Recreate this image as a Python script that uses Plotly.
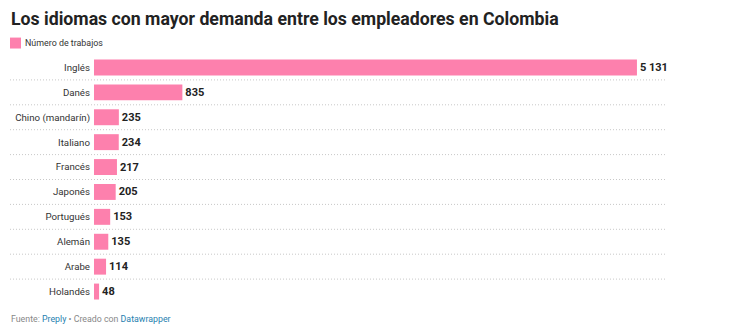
import plotly.graph_objects as go

idiomas = ["Inglés", "Danés", "Chino (mandarín)", "Italiano", "Francés",
           "Japonés", "Portugués", "Alemán", "Arabe", "Holandés"]
trabajos = [5131, 835, 235, 234, 217, 205, 153, 135, 114, 48]

BAR = "#fd80ad"
FONT = "Roboto"
PW = 573.0
PH = 250.0

def px_x(p):
    return (p - 94) / PW

def px_y(p):
    return (330 - 25.5 - p) / PH

idx = list(range(len(idiomas)))

fig = go.Figure(go.Bar(
    x=trabajos, y=idx, orientation="h",
    marker=dict(color=BAR, line=dict(width=0)),
    width=0.64,
    texttemplate="<b>%{x:,}</b>", textposition="outside",
    textfont=dict(family=FONT, size=11, color="#222"),
    cliponaxis=False, hoverinfo="skip",
))

shapes = []
for i in range(len(idiomas) - 1):
    shapes.append(dict(type="line", xref="paper", yref="y",
                       x0=px_x(10), x1=1.0, y0=i + 0.5, y1=i + 0.5,
                       line=dict(color="#c8c8c8", width=1, dash="1px,2px"),
                       layer="below"))
# legend swatch
shapes.append(dict(type="rect", xref="paper", yref="paper",
                   x0=px_x(10), x1=px_x(21), y0=px_y(48), y1=px_y(37),
                   fillcolor=BAR, line=dict(width=0)))

fig.update_layout(
    width=732, height=330,
    margin=dict(l=94, r=65, t=54.5, b=25.5, autoexpand=False),
    plot_bgcolor="white", paper_bgcolor="white",
    separators=", ",
    font=dict(family=FONT, size=10, color="#333"),
    showlegend=False,
    bargap=0.36,
    xaxis=dict(range=[0, 5415], visible=False, fixedrange=True, automargin=False),
    yaxis=dict(range=[9.5, -0.5], tickvals=idx, ticktext=idiomas,
               showgrid=False, zeroline=False, showline=False, ticks="",
               ticklabelstandoff=3, automargin=False,
               tickfont=dict(family=FONT, size=9.7, color="#333")),
    shapes=shapes,
    annotations=[
        dict(text="<b>Los idiomas con mayor demanda entre los empleadores en Colombia</b>",
             xref="paper", yref="paper", x=px_x(9), y=px_y(18),
             xanchor="left", yanchor="middle", showarrow=False,
             font=dict(family=FONT, size=17.7, color="#222")),
        dict(text="Número de trabajos", xref="paper", yref="paper",
             x=px_x(23), y=px_y(42.5), xanchor="left", yanchor="middle",
             showarrow=False, font=dict(family=FONT, size=8.9, color="#333")),
        dict(text="<span style='color:#888'>Fuente: </span><span style='color:#1f7fb0'>Preply</span>"
                  "<span style='color:#888'> • Creado con </span><span style='color:#1f7fb0'>Datawrapper</span>",
             xref="paper", yref="paper", x=px_x(9), y=px_y(320),
             xanchor="left", yanchor="middle", showarrow=False,
             font=dict(family=FONT, size=8.8, color="#888")),
    ],
)

fig.write_html("out.html")
